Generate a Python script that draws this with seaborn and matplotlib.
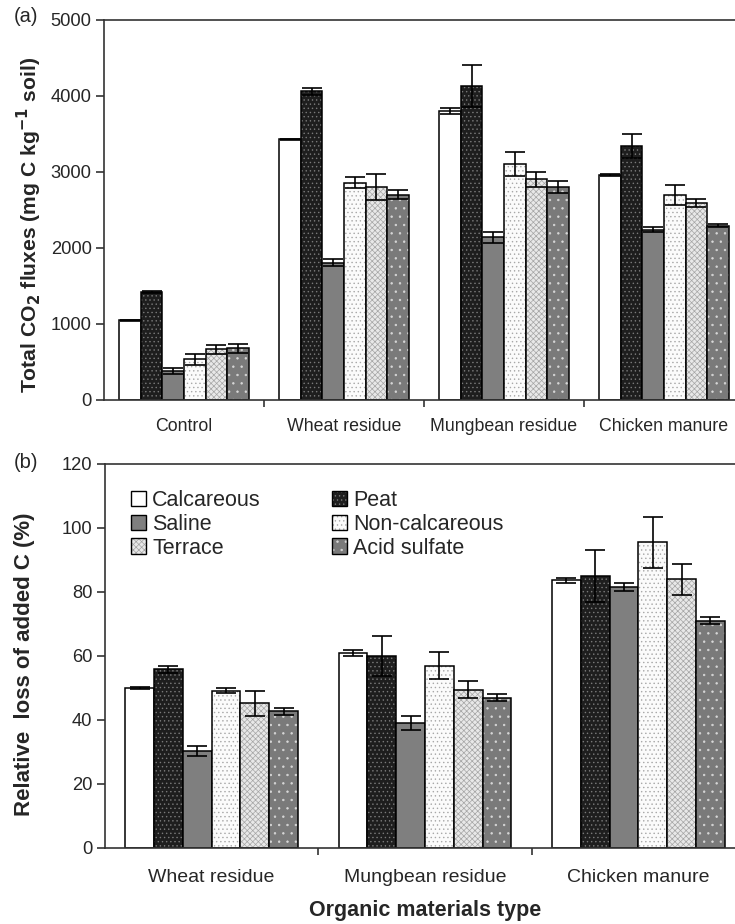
import numpy as np
import pandas as pd
import matplotlib
matplotlib.use("Agg")
import matplotlib.pyplot as plt
import seaborn as sns
from matplotlib.patches import Patch
from matplotlib.container import BarContainer

# ---------------- data ----------------
soils = ["Calcareous", "Peat", "Saline", "Non-calcareous", "Terrace", "Acid sulfate"]
cats_a = ["Control", "Wheat residue", "Mungbean residue", "Chicken manure"]
cats_b = ["Wheat residue", "Mungbean residue", "Chicken manure"]

flux_calcareous = [1050, 3430, 3800, 2960]
flux_peat = [1420, 4060, 4130, 3345]
flux_saline = [385, 1805, 2140, 2240]
flux_noncalc = [535, 2860, 3105, 2700]
flux_terrace = [665, 2805, 2905, 2590]
flux_acid = [680, 2700, 2805, 2295]

fluxerr_calcareous = [5, 5, 40, 15]
fluxerr_peat = [15, 50, 280, 160]
fluxerr_saline = [40, 45, 75, 30]
fluxerr_noncalc = [75, 70, 160, 130]
fluxerr_terrace = [55, 170, 100, 55]
fluxerr_acid = [55, 60, 75, 15]

loss_calcareous = [50.0, 60.9, 83.6]
loss_peat = [55.8, 60.0, 85.0]
loss_saline = [30.3, 39.0, 81.5]
loss_noncalc = [49.2, 57.0, 95.5]
loss_terrace = [45.2, 49.5, 84.0]
loss_acid = [42.7, 47.0, 71.0]

losserr_calcareous = [0.3, 0.9, 0.9]
losserr_peat = [1.2, 6.1, 8.0]
losserr_saline = [1.5, 2.2, 1.2]
losserr_noncalc = [0.7, 4.2, 8.0]
losserr_terrace = [3.8, 2.6, 4.9]
losserr_acid = [1.1, 1.1, 1.1]

flux_vals = [flux_calcareous, flux_peat, flux_saline, flux_noncalc, flux_terrace, flux_acid]
flux_errs = [fluxerr_calcareous, fluxerr_peat, fluxerr_saline, fluxerr_noncalc, fluxerr_terrace, fluxerr_acid]
loss_vals = [loss_calcareous, loss_peat, loss_saline, loss_noncalc, loss_terrace, loss_acid]
loss_errs = [losserr_calcareous, losserr_peat, losserr_saline, losserr_noncalc, losserr_terrace, losserr_acid]

# ---------------- style ----------------
sns.set_style("ticks")
plt.rcParams["font.family"] = ["Liberation Sans", "DejaVu Sans"]
plt.rcParams["hatch.linewidth"] = 0.5

faces = ["#ffffff", "#1e1e1e", "#7f7f7f", "#fbfbfb", "#e8e8e8", "#7a7a7a"]
hatches = [None, "....", None, "....", "xxxxxx", ".."]
hatch_cols = [None, "#7a7a7a", None, "#a8a8a8", "#a5a5a5", "#d8d8d8"]


def long_df(cats, vals):
    rows = []
    for s, v in zip(soils, vals):
        for c, x in zip(cats, v):
            rows.append({"cat": c, "soil": s, "val": x})
    return pd.DataFrame(rows)


def style_bars(ax, errs):
    bar_conts = [c for c in ax.containers if isinstance(c, BarContainer)]
    for i, cont in enumerate(bar_conts):
        for j, p in enumerate(cont.patches):
            if hatches[i]:
                p.set_hatch(hatches[i])
                p._hatch_color = matplotlib.colors.to_rgba(hatch_cols[i])
            x = p.get_x() + p.get_width() / 2
            ax.errorbar(x, p.get_height(), yerr=errs[i][j], fmt="none",
                        ecolor="black", elinewidth=1.2, capsize=7, capthick=1.2, zorder=5)


def setup_axis(ax, cats, fs, pad):
    n = len(cats)
    ax.set_xlim(-0.5, n - 0.5)
    ax.set_xticks(np.arange(0.5, n - 0.5, 1.0))
    ax.set_xticklabels([])
    ax.set_xticks(np.arange(n), minor=True)
    ax.set_xticklabels(cats, minor=True, fontsize=fs)
    ax.tick_params(axis="x", which="major", length=5, width=1.2, direction="out", color="#333333")
    ax.tick_params(axis="x", which="minor", length=0, pad=pad)
    ax.tick_params(axis="y", length=6, width=1.2, direction="out", color="#333333", labelsize=13.2, pad=3)
    for s in ax.spines.values():
        s.set_linewidth(1.2)
        s.set_color("#333333")
    ax.set_xlabel("")


fig = plt.figure(figsize=(7.35, 9.24), dpi=100)
ax1 = fig.add_axes([104 / 735, (924 - 400) / 924, 640 / 735, 380 / 924])
ax2 = fig.add_axes([105 / 735, (924 - 848) / 924, 640 / 735, 384 / 924])

df_a = long_df(cats_a, flux_vals)
sns.barplot(data=df_a, x="cat", y="val", hue="soil", hue_order=soils, order=cats_a,
            palette=faces, edgecolor="black", linewidth=1.1, width=0.81, gap=0,
            errorbar=None, legend=False, ax=ax1)
style_bars(ax1, flux_errs)
setup_axis(ax1, cats_a, 12.8, 13)
ax1.set_ylim(0, 5000)
ax1.set_yticks(range(0, 5001, 1000))
ax1.set_ylabel("Total CO$_\\mathbf{2}$ fluxes (mg C kg$^\\mathbf{-1}$ soil)",
               fontsize=15.2, fontweight="bold")
ax1.yaxis.set_label_coords(-60 / 640, 0.46)

df_b = long_df(cats_b, loss_vals)
sns.barplot(data=df_b, x="cat", y="val", hue="soil", hue_order=soils, order=cats_b,
            palette=faces, edgecolor="black", linewidth=1.1, width=0.81, gap=0,
            errorbar=None, legend=False, ax=ax2)
style_bars(ax2, loss_errs)
setup_axis(ax2, cats_b, 14, 15)
ax2.set_ylim(0, 120)
ax2.set_yticks(range(0, 121, 20))
ax2.set_ylabel("Relative  loss of added C (%)", fontsize=16, fontweight="bold")
ax2.yaxis.set_label_coords(-70 / 640, 0.479)
ax2.set_xlabel("Organic materials type", fontsize=15.5, fontweight="bold", labelpad=10)

# legend (column-major order like the reference)
handles = []
for i, s in enumerate(soils):
    h = Patch(facecolor=faces[i], edgecolor="black", linewidth=1.0, hatch=hatches[i], label=s)
    handles.append(h)
order = [0, 2, 4, 1, 3, 5]
leg = ax2.legend([handles[k] for k in order], [soils[k] for k in order], ncol=2,
                 loc="upper left", bbox_to_anchor=(0.02, 0.965), frameon=False,
                 fontsize=15.5, handlelength=0.7, handleheight=0.7, handletextpad=0.3,
                 labelspacing=0.12, columnspacing=3.3, borderaxespad=0.2)
for i, h in zip(order, leg.legend_handles):
    if hatch_cols[i]:
        h._hatch_color = matplotlib.colors.to_rgba(hatch_cols[i])

fig.text(14 / 735, 1 - 17 / 924, "(a)", fontsize=14.5, va="center", ha="left")
fig.text(14 / 735, 1 - 462 / 924, "(b)", fontsize=14.5, va="center", ha="left")

fig.savefig("out.png", dpi=100)
